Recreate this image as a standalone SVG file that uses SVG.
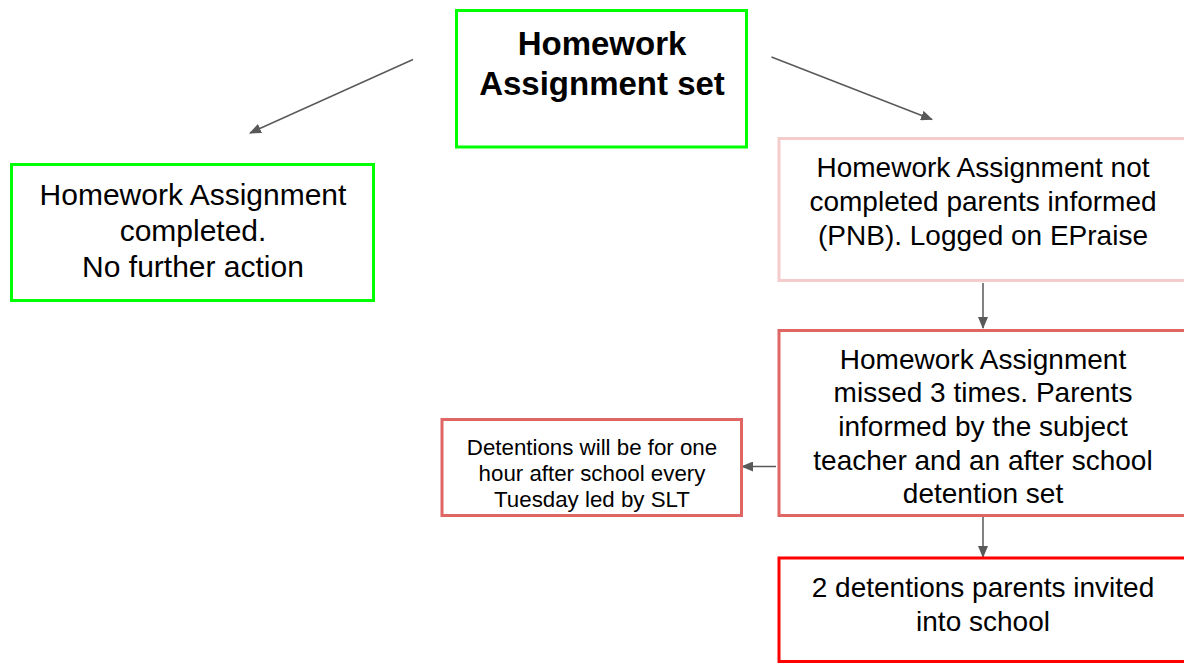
<svg xmlns="http://www.w3.org/2000/svg" width="1184" height="664" viewBox="0 0 1184 664">
<style>
text{font-family:"Liberation Sans",Arial,sans-serif;fill:#000;text-anchor:middle}
.b{font-weight:bold;font-size:33px}
.t30{font-size:30px}
.t28{font-size:28px}
.t22{font-size:22.3px}
.box{fill:#fff;stroke-width:3}
.g{stroke:#00ff00}
.p{stroke:#f4cccc}
.r1{stroke:#e06666}
.r2{stroke:#ff0000}
.c{stroke:#595959;stroke-width:1.5;fill:none;marker-end:url(#ah)}
</style>
<defs>
<marker id="ah" markerUnits="userSpaceOnUse" markerWidth="12" markerHeight="10" refX="11" refY="5" orient="auto" viewBox="0 0 12 10">
<path d="M0,0 L12,5 L0,10 z" fill="#595959"/>
</marker>
</defs>
<rect width="1184" height="664" fill="#fff"/>
<g id="connectors">
<line class="c" x1="413" y1="59.5" x2="250" y2="133"/>
<line class="c" x1="771.5" y1="57" x2="932" y2="119.5"/>
<line class="c" x1="983" y1="283" x2="983" y2="328"/>
<line class="c" x1="983" y1="517" x2="983" y2="557"/>
<line class="c" x1="776" y1="466.5" x2="742" y2="466.5"/>
</g>
<g id="n-set">
<rect class="box g" x="456.5" y="10.5" width="290" height="136.5"/>
<text class="b" x="602" y="55">Homework</text>
<text class="b" x="602" y="95">Assignment set</text>
</g>
<g id="n-completed">
<rect class="box g" x="11.5" y="164.5" width="362" height="136"/>
<text class="t30" x="193" y="205">Homework Assignment</text>
<text class="t30" x="193" y="241">completed.</text>
<text class="t30" x="193" y="277">No further action</text>
</g>
<g id="n-notcompleted">
<rect class="box p" x="779" y="138.5" width="420" height="142"/>
<text class="t28" x="983" y="177">Homework Assignment not</text>
<text class="t28" x="983" y="211">completed parents informed</text>
<text class="t28" x="983" y="245">(PNB). Logged on EPraise</text>
</g>
<g id="n-missed">
<rect class="box r1" x="779" y="330.5" width="420" height="185"/>
<text class="t28" x="983" y="368.5">Homework Assignment</text>
<text class="t28" x="983" y="402">missed 3 times. Parents</text>
<text class="t28" x="983" y="435.5">informed by the subject</text>
<text class="t28" x="983" y="469.5">teacher and an after school</text>
<text class="t28" x="983" y="503">detention set</text>
</g>
<g id="n-detention">
<rect class="box r1" x="442" y="419.5" width="299.5" height="96"/>
<text class="t22" x="592" y="455">Detentions will be for one</text>
<text class="t22" x="592" y="481">hour after school every</text>
<text class="t22" x="592" y="507">Tuesday led by SLT</text>
</g>
<g id="n-parents">
<rect class="box r2" x="779" y="558" width="420" height="103.5"/>
<text class="t28" x="983" y="597">2 detentions parents invited</text>
<text class="t28" x="983" y="631">into school</text>
</g>
</svg>
